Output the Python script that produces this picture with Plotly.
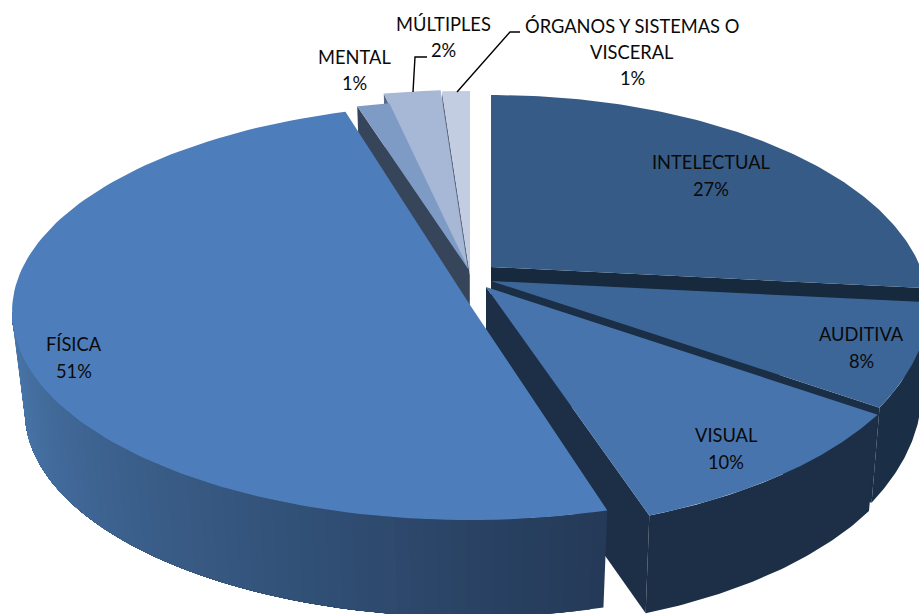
"""
plot.py - 3D-looking exploded pie, drawn as filled polygons (plotly pie can't tilt)
"""
import numpy as np
import plotly.graph_objects as go

CATEGORIES = ["INTELECTUAL", "AUDITIVA", "VISUAL", "FÍSICA", "MENTAL", "MÚLTIPLES",
              "ÓRGANOS Y SISTEMAS O VISCERAL"]
VALUES = [26.7, 8.2, 10.1, 50.6, 1.0, 2.3, 1.1]

TOP_COLORS = ["#375B87", "#3D6698", "#4774AC", "#4D7EBB", "#7E9BC6", "#A7B7D6", "#C3CDE2"]
SIDE_COLORS = ["#17293C", "#1A2E45", "#1C2F46", "#243A58", "#364559", "#5B6A80", "#5B6A80"]
WALL_LEFT = "#4A78AD"

WIDTH, HEIGHT = 919, 614
ASPECT = 2.2
# per slice: apex, lower apex, upper ellipse (cx, cy, a, b), lower ellipse (cx, cy, a, b)
GEOM = {
    "INTELECTUAL": ((491, 267), (491, 367), (491, 309, 438, 214), (491, 400, 430, 214)),
    "AUDITIVA": ((491, 281), (491, 381), (491, 295, 440, 240), (491, 390, 431, 240)),
    "VISUAL": ((486, 287), (486, 387), (486, 305, 448, 226), (486, 400, 438, 229)),
    "FÍSICA": ((470, 305), (470, 405), (470, 312, 458, 208), (470, 412, 445, 205)),
    "MENTAL": ((469, 270), (469, 360), (469, 308, 458, 208), (469, 398, 445, 205)),
    "MÚLTIPLES": ((468, 270), (468, 360), (468, 298, 458, 208), (468, 388, 445, 205)),
    "ÓRGANOS Y SISTEMAS O VISCERAL": ((470, 275), (470, 365), (470, 299, 458, 208), (470, 389, 445, 205)),
}
# perspective makes slices look slightly rotated, degrees added to start / end angle
NUDGE = {"FÍSICA": (1.1, -0.5), "MENTAL": (-1.4, 0.0)}
DRAW_ORDER = ["INTELECTUAL", "AUDITIVA", "VISUAL", "ÓRGANOS Y SISTEMAS O VISCERAL",
              "MÚLTIPLES", "MENTAL", "FÍSICA"]

# label lines with their centre position
LABELS = {
    "INTELECTUAL": ([("INTELECTUAL", 711, 162)], (711, 189)),
    "AUDITIVA": ([("AUDITIVA", 861, 334)], (861, 361)),
    "VISUAL": ([("VISUAL", 726, 435)], (726, 462)),
    "FÍSICA": ([("FÍSICA", 74, 344)], (74, 371)),
    "MENTAL": ([("MENTAL", 354, 57)], (354, 83)),
    "MÚLTIPLES": ([("MÚLTIPLES", 443, 24)], (443, 50)),
    "ÓRGANOS Y SISTEMAS O VISCERAL": ([("ÓRGANOS Y SISTEMAS O", 632, 26), ("VISCERAL", 632, 52)], (632, 78)),
}
LEADERS = [([427, 415, 413], [57, 57, 92]), ([520, 510, 457], [32, 32, 92])]


def ray_t(apex, ell, th):
    # ellipse parameter where the ray leaving the apex at pie angle th hits the rim
    cx, cy, a, b = ell
    dx, dy = ASPECT * np.sin(th), -np.cos(th)
    px, py = (apex[0] - cx) / a, (apex[1] - cy) / b
    qx, qy = dx / a, dy / b
    A, B, C = qx**2 + qy**2, 2 * (px * qx + py * qy), px**2 + py**2 - 1
    r = (-B + np.sqrt(B**2 - 4 * A * C)) / (2 * A)
    x, y = px + r * qx, py + r * qy
    return np.arctan2(x, -y) % (2 * np.pi)


def rim(ell, t):
    cx, cy, a, b = ell
    return cx + a * np.sin(t), cy - b * np.cos(t)


def mix(c1, c2, f):
    p = [int(c1[i:i + 2], 16) for i in (1, 3, 5)]
    q = [int(c2[i:i + 2], 16) for i in (1, 3, 5)]
    return "rgb(%d,%d,%d)" % tuple(round(u + (v - u) * f) for u, v in zip(p, q))


def poly(fig, x, y, color):
    fig.add_trace(go.Scatter(
        x=list(x), y=list(y), mode="lines", fill="toself", fillcolor=color,
        line=dict(color=color, width=0), hoverinfo="skip", showlegend=False,
    ))


def draw_slice(fig, i, start, end):
    name = CATEGORIES[i]
    apex, apex_low, upper, lower = GEOM[name]
    d0, d1 = NUDGE.get(name, (0.0, 0.0))
    start, end = start + np.radians(d0), end + np.radians(d1)
    t0 = ray_t(apex, upper, start) if start > 0 else 0.0
    t1 = ray_t(apex, upper, end)
    if end >= 2 * np.pi - 1e-9:
        t1 = 2 * np.pi

    # side face along the radius that looks at the viewer
    if name != "FÍSICA":
        tf = t1 if end < np.pi else t0
        ux, uy = rim(upper, tf)
        lx, ly = rim(lower, tf)
        poly(fig, [apex[0], ux, lx, apex_low[0]], [apex[1], uy, ly, apex_low[1]], SIDE_COLORS[i])

    # outer wall, front half only; each band runs to the end so no seams show
    a, b = max(t0, np.pi / 2), min(t1, 3 * np.pi / 2)
    if b > a:
        n = 60 if name == "FÍSICA" else 1
        for k in range(n):
            ts = np.linspace(a + (b - a) * k / n, b, 60)
            ux, uy = rim(upper, ts)
            lx, ly = rim(lower, ts)
            color = mix(SIDE_COLORS[i], WALL_LEFT, k / n) if n > 1 else SIDE_COLORS[i]
            poly(fig, np.r_[ux, lx[::-1]], np.r_[uy, ly[::-1]], color)

    # top surface
    ths = np.linspace(start, end, 120)
    ts = np.array([ray_t(apex, upper, th) for th in ths])
    ux, uy = rim(upper, ts)
    poly(fig, np.r_[apex[0], ux], np.r_[apex[1], uy], TOP_COLORS[i])


fig = go.Figure()

cum = np.cumsum([0] + VALUES) / sum(VALUES) * 2 * np.pi
for name in DRAW_ORDER:
    i = CATEGORIES.index(name)
    draw_slice(fig, i, cum[i], cum[i + 1])

for lx, ly in LEADERS:
    fig.add_trace(go.Scatter(x=lx, y=ly, mode="lines", line=dict(color="#000000", width=1.4),
                             hoverinfo="skip", showlegend=False))

for name, value in zip(CATEGORIES, VALUES):
    lines, pct_pos = LABELS[name]
    for text, x, y in lines + [(f"{round(value)}%", pct_pos[0], pct_pos[1])]:
        fig.add_annotation(x=x, y=y, text=text, showarrow=False, xanchor="center", yanchor="middle",
                           font=dict(family="Lato, sans-serif", size=18.3, color="#0A0A0A"))

fig.update_layout(
    width=WIDTH, height=HEIGHT,
    paper_bgcolor="#FFFFFF", plot_bgcolor="#FFFFFF",
    margin=dict(l=0, r=0, t=0, b=0),
    xaxis=dict(range=[0, WIDTH], visible=False, fixedrange=True),
    yaxis=dict(range=[HEIGHT, 0], visible=False, fixedrange=True),
    showlegend=False,
)

fig.write_html("out.html", config=dict(displayModeBar=False),
               post_script="document.body.style.margin='0';")
